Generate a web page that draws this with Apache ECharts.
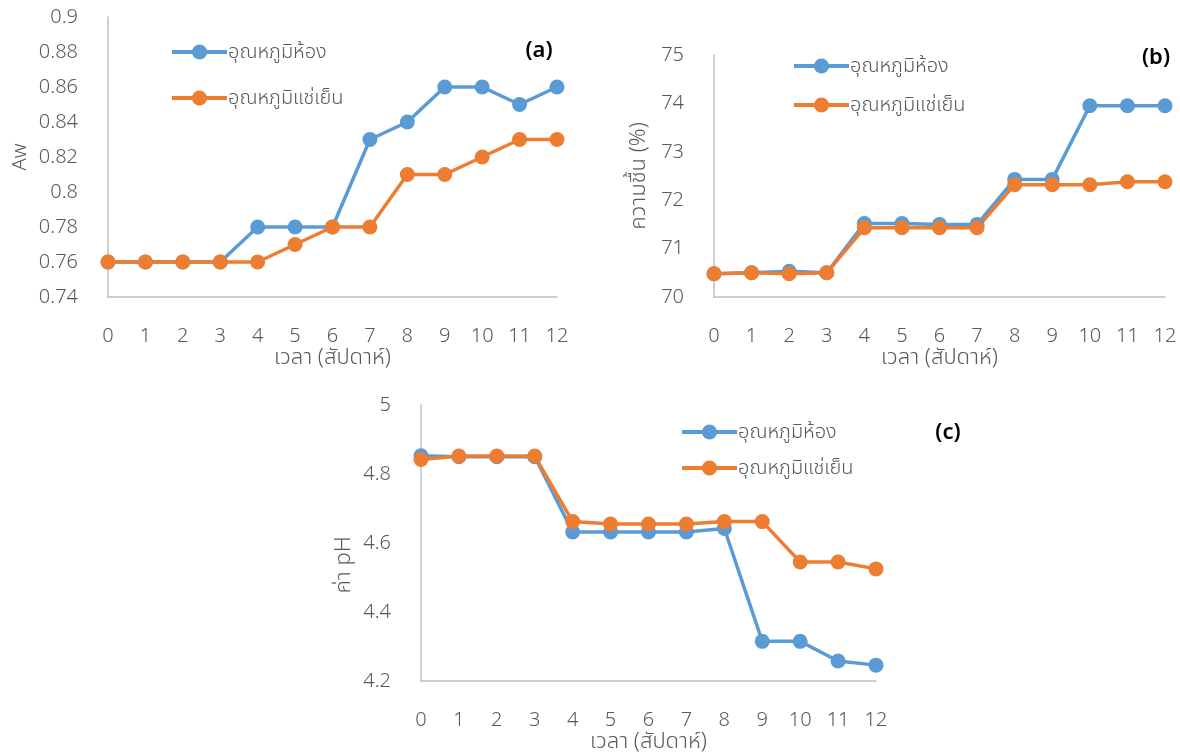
<!DOCTYPE html>
<html>
<head>
<meta charset="utf-8">
<script src="https://cdn.jsdelivr.net/npm/echarts@6/dist/echarts.min.js"></script>
<style>
html,body{margin:0;padding:0;background:#fff;}
#c{width:1180px;height:754px;}
</style>
</head>
<body>
<div id="c"></div>
<script>
const weeks = ['0','1','2','3','4','5','6','7','8','9','10','11','12'];
const seriesNames = ['อุณหภูมิห้อง', 'อุณหภูมิแช่เย็น'];
const awRoom = [0.76,0.76,0.76,0.76,0.78,0.78,0.78,0.83,0.84,0.86,0.86,0.85,0.86];
const awCold = [0.76,0.76,0.76,0.76,0.76,0.77,0.78,0.78,0.81,0.81,0.82,0.83,0.83];
const moistRoom = [70.48,70.5,70.53,70.5,71.52,71.52,71.5,71.5,72.43,72.43,73.95,73.95,73.95];
const moistCold = [70.48,70.5,70.48,70.5,71.43,71.43,71.43,71.43,72.32,72.32,72.32,72.38,72.38];
const phRoom = [4.853,4.85,4.85,4.85,4.632,4.632,4.632,4.632,4.642,4.315,4.315,4.258,4.246];
const phCold = [4.842,4.852,4.852,4.852,4.662,4.655,4.655,4.655,4.662,4.662,4.545,4.545,4.525];
const xTitle = 'เวลา (สัปดาห์)';
const yTitles = ['Aw', 'ความชื้น (%)', 'ค่า pH'];
const panelLabels = ['(a)', '(b)', '(c)'];

const FONT = "'Noto Sans', 'Noto Sans Thai', 'Loma', 'Garuda', 'DejaVu Sans', sans-serif";
const GREY = '#595959';
const AXIS = '#BFBFBF';
const BLUE = '#5B9BD5';
const ORANGE = '#ED7D31';

function trim(v){ return parseFloat(v.toFixed(2)).toString(); }

const grids = [
  {left:108, top:17, width:449, height:280},
  {left:714, top:55, width:451, height:242},
  {left:421, top:405, width:455, height:278}
];
const yCfg = [
  {min:0.74, max:0.9, interval:0.02, margin:30, gap:78, pad:[0,0,0,0], size:20},
  {min:70, max:75, interval:1, margin:30, gap:64, pad:[0,0,0,0], size:22},
  {min:4.2, max:5, interval:0.2, margin:30, gap:66, pad:[0,44,0,0], size:22}
];

const xAxis = grids.map((g,i)=>({
  type:'category', gridIndex:i, data:weeks, boundaryGap:false,
  axisLine:{lineStyle:{color:AXIS, width:1.5}}, axisTick:{show:false},
  axisLabel:{color:GREY, fontSize:20, fontWeight:300, fontFamily:FONT, margin:29, interval:0},
  name:xTitle, nameLocation:'middle', nameGap:50,
  nameTextStyle:{color:GREY, fontSize:22, fontWeight:300, fontFamily:FONT},
  splitLine:{show:false}
}));
const yAxis = yCfg.map((c,i)=>({
  type:'value', gridIndex:i, min:c.min, max:c.max, interval:c.interval,
  axisLine:{show:true, lineStyle:{color:AXIS, width:1.5}}, axisTick:{show:false},
  axisLabel:{color:GREY, fontSize:20, fontWeight:300, fontFamily:FONT, margin:c.margin, formatter:trim},
  splitLine:{show:false},
  name:yTitles[i], nameLocation:'middle', nameGap:c.gap,
  nameTextStyle:{color:GREY, fontSize:c.size, fontWeight:300, fontFamily:FONT, padding:c.pad}
}));

const data = [[awRoom, awCold],[moistRoom, moistCold],[phRoom, phCold]];
const series = [];
data.forEach((pair,i)=>{
  pair.forEach((vals,j)=>{
    series.push({
      type:'line', name:seriesNames[j], xAxisIndex:i, yAxisIndex:i, data:vals,
      symbol:'circle', symbolSize:15,
      lineStyle:{width:3.5, color:j?ORANGE:BLUE},
      itemStyle:{color:j?ORANGE:BLUE},
      animation:false
    });
  });
});

const legendPos = [
  {left:170, top:40, itemGap:22},
  {left:792, top:54, itemGap:15},
  {left:680, top:420, itemGap:12}
];
const legend = legendPos.map(p=>({
  data:seriesNames, orient:'vertical', left:p.left, top:p.top, itemGap:p.itemGap,
  itemWidth:55, itemHeight:19, padding:0,
  lineStyle:{width:4},
  textStyle:{color:GREY, fontSize:20, fontWeight:300, fontFamily:FONT, lineHeight:24, padding:[0,0,0,-4]}
}));

const labelPos = [{x:539, y:51},{x:1156, y:58},{x:948, y:433}];
const graphic = labelPos.map((p,i)=>({
  type:'text', x:p.x, y:p.y,
  style:{text:panelLabels[i], fill:'#000', font:"600 22px " + FONT, textAlign:'center', textVerticalAlign:'middle'}
}));

const chart = echarts.init(document.getElementById('c'), null, {renderer:'canvas'});
chart.setOption({
  backgroundColor:'#fff', animation:false,
  grid:grids.map(g=>Object.assign({containLabel:false}, g)),
  xAxis, yAxis, series, legend, graphic
});
</script>
</body>
</html>
